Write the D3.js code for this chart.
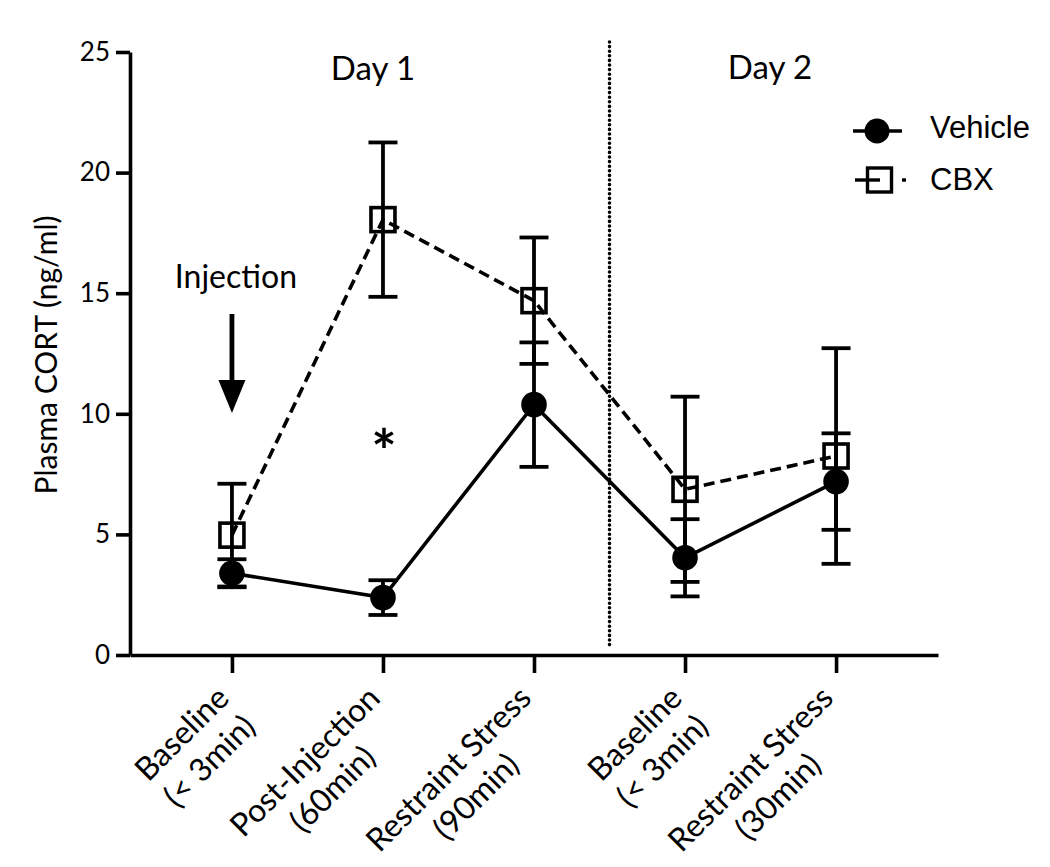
<!DOCTYPE html>
<html>
<head>
<meta charset="utf-8">
<script src="https://cdn.jsdelivr.net/npm/d3@7"></script>
<style>
  html, body { margin: 0; padding: 0; background: #fff; }
  svg { display: block; }
</style>
</head>
<body>
<svg id="chart" width="1050" height="867"></svg>
<script>
// ---------- data ----------
const categories = ["Baseline (< 3min) D1", "Post-Injection (60min)", "Restraint Stress (90min)", "Baseline (< 3min) D2", "Restraint Stress (30min)"];
const labelLine1 = ["Baseline", "Post-Injection", "Restraint Stress", "Baseline", "Restraint Stress"];
const labelLine2 = ["(< 3min)", "(60min)", "(90min)", "(< 3min)", "(30min)"];
const vehicleMean = [3.39, 2.38, 10.38, 4.03, 7.19];
const vehicleSEM  = [0.58, 0.72, 2.58, 1.60, 2.00];
const cbxMean     = [4.97, 18.05, 14.69, 6.87, 8.25];
const cbxSEM      = [2.13, 3.20, 2.62, 3.84, 4.47];
const yTicks = [0, 5, 10, 15, 20, 25];
const seriesNames = ["Vehicle", "CBX"];
const dayLabels = ["Day 1", "Day 2"];

// ---------- layout ----------
const svg = d3.select("#chart");
const x = d3.scalePoint().domain(categories).range([130, 938]).padding(0.675);
const y = d3.scaleLinear().domain([0, 25]).range([655, 52]);
const mainFont = "Lato, 'Open Sans', sans-serif";
const legendFont = "'Liberation Sans', Arial, sans-serif";

// dotted separator between day 1 and day 2
const sepX = (x(categories[2]) + x(categories[3])) / 2;
svg.append("line")
  .attr("x1", sepX).attr("x2", sepX)
  .attr("y1", 42).attr("y2", 649)
  .attr("stroke", "#000").attr("stroke-width", 3.6)
  .attr("stroke-linecap", "round")
  .attr("stroke-dasharray", "0 4.6");

// y axis
const yAxis = svg.append("g")
  .attr("transform", "translate(130,0)")
  .call(d3.axisLeft(y).tickValues(yTicks).tickSize(14).tickSizeOuter(0).tickPadding(6));
yAxis.select(".domain").attr("stroke", "#000").attr("stroke-width", 3.6);
yAxis.selectAll(".tick line").attr("stroke", "#000").attr("stroke-width", 3.6);
yAxis.selectAll(".tick text").attr("font-family", mainFont).attr("font-size", 26).attr("fill", "#000");

// x axis
const xAxis = svg.append("g")
  .attr("transform", "translate(0,655)")
  .call(d3.axisBottom(x).tickSize(18).tickSizeOuter(0).tickFormat(""));
xAxis.select(".domain").attr("stroke", "#000").attr("stroke-width", 3.6);
xAxis.selectAll(".tick line").attr("stroke", "#000").attr("stroke-width", 3.6);

// x tick labels (rotated, two lines centred on each other)
categories.forEach((c, i) => {
  const g = svg.append("g")
    .attr("transform", `translate(${x(c) - 1},700) rotate(-45)`)
    .attr("font-family", mainFont).attr("font-size", 32).attr("fill", "#000");
  const t1 = g.append("text").attr("text-anchor", "end").attr("x", 0).attr("y", 0).text(labelLine1[i]);
  const L = t1.node().getComputedTextLength();
  g.append("text").attr("text-anchor", "middle").attr("x", -L / 2).attr("y", 39).text(labelLine2[i]);
});

// y axis title
svg.append("text")
  .attr("transform", "translate(57,355) rotate(-90)")
  .attr("text-anchor", "middle")
  .attr("font-family", mainFont).attr("font-size", 30).attr("fill", "#000")
  .text("Plasma CORT (ng/ml)");

// day labels
svg.append("text").attr("x", 373).attr("y", 80).attr("text-anchor", "middle")
  .attr("font-family", mainFont).attr("font-size", 33).text(dayLabels[0]);
svg.append("text").attr("x", 770).attr("y", 79).attr("text-anchor", "middle")
  .attr("font-family", mainFont).attr("font-size", 33).text(dayLabels[1]);

// injection annotation
const injX = x(categories[0]);
svg.append("text").attr("x", injX + 4).attr("y", 288).attr("text-anchor", "middle")
  .attr("font-family", mainFont).attr("font-size", 32).text("Injection");
svg.append("line").attr("x1", injX).attr("x2", injX).attr("y1", 314).attr("y2", 384)
  .attr("stroke", "#000").attr("stroke-width", 4.8);
svg.append("path")
  .attr("d", `M${injX - 13.5},380 L${injX + 13.5},380 L${injX},413 Z`)
  .attr("fill", "#000");

// asterisk
svg.append("text").attr("x", x(categories[1]) + 1).attr("y", 473).attr("text-anchor", "middle")
  .attr("font-family", mainFont).attr("font-size", 60).attr("font-weight", "bold").text("*");

// ---------- series ----------
const series = [
  { name: seriesNames[0], mean: vehicleMean, sem: vehicleSEM, dash: null },
  { name: seriesNames[1], mean: cbxMean, sem: cbxSEM, dash: "11,6" }
];

// error bars
series.forEach(s => {
  const g = svg.append("g").attr("stroke", "#000").attr("stroke-width", 3.8);
  categories.forEach((c, i) => {
    const cx = x(c);
    const hi = y(s.mean[i] + s.sem[i]), lo = y(s.mean[i] - s.sem[i]);
    g.append("line").attr("x1", cx).attr("x2", cx).attr("y1", hi).attr("y2", lo);
    g.append("line").attr("x1", cx - 14.5).attr("x2", cx + 14.5).attr("y1", hi).attr("y2", hi);
    g.append("line").attr("x1", cx - 14.5).attr("x2", cx + 14.5).attr("y1", lo).attr("y2", lo);
  });
});

// lines
const lineGen = d3.line().x((d, i) => x(categories[i])).y(d => y(d));
series.forEach(s => {
  svg.append("path").datum(s.mean)
    .attr("d", lineGen)
    .attr("fill", "none").attr("stroke", "#000").attr("stroke-width", 3.6)
    .attr("stroke-dasharray", s.dash);
});

// markers
svg.append("g").selectAll("rect").data(cbxMean).join("rect")
  .attr("x", (d, i) => x(categories[i]) - 12).attr("y", d => y(d) - 12)
  .attr("width", 24).attr("height", 24)
  .attr("fill", "none").attr("stroke", "#000").attr("stroke-width", 3.6);
svg.append("g").selectAll("circle").data(vehicleMean).join("circle")
  .attr("cx", (d, i) => x(categories[i])).attr("cy", d => y(d))
  .attr("r", 12.8).attr("fill", "#000");

// ---------- legend ----------
const lg = svg.append("g");
lg.append("line").attr("x1", 853).attr("x2", 902).attr("y1", 131).attr("y2", 131)
  .attr("stroke", "#000").attr("stroke-width", 3.4);
lg.append("circle").attr("cx", 877).attr("cy", 131).attr("r", 12.5).attr("fill", "#000");
lg.append("text").attr("x", 930).attr("y", 138).attr("font-family", legendFont)
  .attr("font-size", 31).text(seriesNames[0]);

lg.append("line").attr("x1", 855).attr("x2", 880).attr("y1", 180).attr("y2", 180)
  .attr("stroke", "#000").attr("stroke-width", 3.4);
lg.append("line").attr("x1", 902).attr("x2", 906).attr("y1", 180).attr("y2", 180)
  .attr("stroke", "#000").attr("stroke-width", 3.4);
lg.append("rect").attr("x", 867.5).attr("y", 168).attr("width", 24).attr("height", 24)
  .attr("fill", "none").attr("stroke", "#000").attr("stroke-width", 3.4);
lg.append("text").attr("x", 930).attr("y", 190).attr("font-family", legendFont)
  .attr("font-size", 31).text(seriesNames[1]);
</script>
</body>
</html>
